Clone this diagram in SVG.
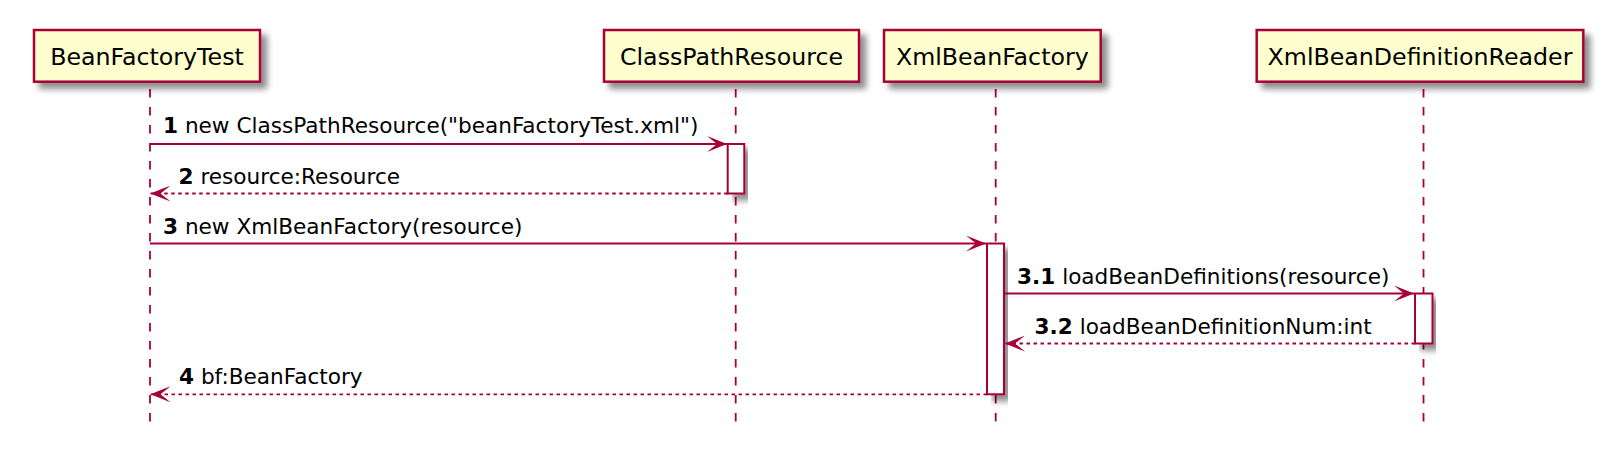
<svg xmlns="http://www.w3.org/2000/svg" width="1614" height="466" viewBox="0 0 1614 466">
<defs>
<filter id="sh" x="-10%" y="-10%" width="130%" height="150%">
<feGaussianBlur in="SourceAlpha" stdDeviation="3"/>
<feOffset dx="6" dy="6" result="b"/>
<feComponentTransfer><feFuncA type="linear" slope="0.45"/></feComponentTransfer>
<feMerge><feMergeNode/><feMergeNode in="SourceGraphic"/></feMerge>
</filter>
<marker id="ah" viewBox="0 0 20 16" refX="20" refY="8" markerWidth="20" markerHeight="16" markerUnits="userSpaceOnUse" orient="auto">
<polygon points="0,0 20,8 0,16 10,8" fill="#A80036"/>
</marker>
</defs>
<style>
.part{fill:#FEFECE;stroke:#A80036;stroke-width:2.5}
.act{fill:#FFFFFF;stroke:#A80036;stroke-width:2}
.life{stroke:#A80036;stroke-width:1.8;stroke-dasharray:8.5,9.5;fill:none}
.msg{stroke:#A80036;stroke-width:1.8;fill:none}
.ret{stroke:#A80036;stroke-width:1.8;fill:none;stroke-dasharray:3.5,3.5}
.pt{font-family:"DejaVu Sans",sans-serif;font-size:23.7px;fill:#000;text-anchor:middle}
.ml{font-family:"DejaVu Sans",sans-serif;font-size:21.6px;fill:#000}
.b{font-weight:bold}
</style>
<rect width="1614" height="466" fill="#FFFFFF"/>
<g id="lifelines">
<line class="life" x1="150" y1="89" x2="150" y2="427"/>
<line class="life" x1="735.7" y1="89" x2="735.7" y2="427"/>
<line class="life" x1="995.7" y1="89" x2="995.7" y2="427"/>
<line class="life" x1="1423.5" y1="89" x2="1423.5" y2="427"/>
</g>
<g id="BeanFactoryTest">
<rect class="part" x="34" y="30" width="226" height="51.7" filter="url(#sh)"/>
<text class="pt" x="147" y="64.5">BeanFactoryTest</text>
</g>
<g id="ClassPathResource">
<rect class="part" x="604" y="30" width="255" height="51.7" filter="url(#sh)"/>
<text class="pt" x="731.5" y="64.5">ClassPathResource</text>
</g>
<g id="XmlBeanFactory">
<rect class="part" x="884" y="30" width="216.7" height="51.7" filter="url(#sh)"/>
<text class="pt" x="992.3" y="64.5">XmlBeanFactory</text>
</g>
<g id="XmlBeanDefinitionReader">
<rect class="part" x="1256.7" y="30" width="326.6" height="51.7" filter="url(#sh)"/>
<text class="pt" x="1420" y="64.5">XmlBeanDefinitionReader</text>
</g>
<g id="activations">
<rect class="act" x="727.7" y="144" width="16.6" height="49.5" filter="url(#sh)"/>
<rect class="act" x="987" y="243.5" width="17" height="150.8" filter="url(#sh)"/>
<rect class="act" x="1415" y="293.5" width="17.5" height="50" filter="url(#sh)"/>
</g>
<g id="connectors">
<line class="msg" x1="150" y1="144" x2="727" y2="144" marker-end="url(#ah)"/>
<text class="ml" x="163" y="133"><tspan class="b">1</tspan> new ClassPathResource("beanFactoryTest.xml")</text>
<line class="ret" x1="727.7" y1="193.5" x2="150.5" y2="193.5" marker-end="url(#ah)"/>
<text class="ml" x="178.5" y="183.5"><tspan class="b">2</tspan> resource:Resource</text>
<line class="msg" x1="150" y1="243.5" x2="986" y2="243.5" marker-end="url(#ah)"/>
<text class="ml" x="163" y="233.5"><tspan class="b">3</tspan> new XmlBeanFactory(resource)</text>
<line class="msg" x1="1004" y1="293.5" x2="1414" y2="293.5" marker-end="url(#ah)"/>
<text class="ml" x="1017" y="283.5"><tspan class="b">3.1</tspan> loadBeanDefinitions(resource)</text>
<line class="ret" x1="1415" y1="343.5" x2="1005" y2="343.5" marker-end="url(#ah)"/>
<text class="ml" x="1034.5" y="333.5"><tspan class="b">3.2</tspan> loadBeanDefinitionNum:int</text>
<line class="ret" x1="987" y1="394.3" x2="150.5" y2="394.3" marker-end="url(#ah)"/>
<text class="ml" x="179" y="384"><tspan class="b">4</tspan> bf:BeanFactory</text>
</g>
</svg>
